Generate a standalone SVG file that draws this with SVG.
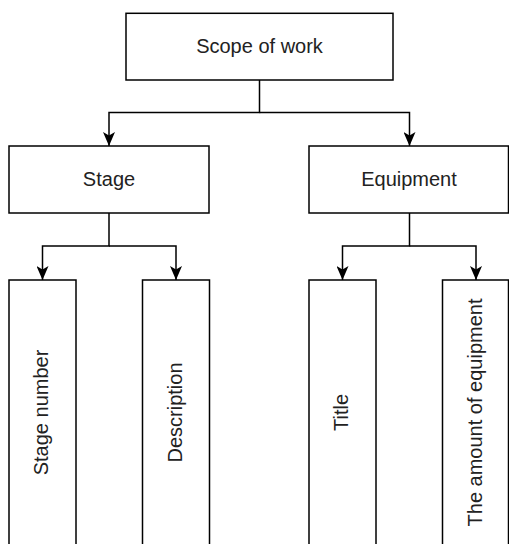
<svg xmlns="http://www.w3.org/2000/svg" width="509" height="544" viewBox="0 0 509 544">
<style>
.box{fill:#fff;stroke:#000;stroke-width:1.5}
.lbl{font-family:"Liberation Sans",Arial,sans-serif;font-size:20px;fill:#222;text-anchor:middle}
.con{fill:none;stroke:#000;stroke-width:1.5}
</style>
<defs>
<marker id="arr" markerUnits="userSpaceOnUse" viewBox="0 0 14 12" refX="14" refY="6" markerWidth="14" markerHeight="12" orient="auto">
<path d="M0,0 L14,6 L0,12 L3.5,6 Z" fill="#000"/>
</marker>
</defs>
<rect width="509" height="544" fill="#fff"/>
<g id="connectors">
<path class="con" d="M259.5,80 V112.5 H109 V146" marker-end="url(#arr)"/>
<path class="con" d="M259.5,112.5 H409.5 V146" marker-end="url(#arr)"/>
<path class="con" d="M109,213 V246 H42.5 V280" marker-end="url(#arr)"/>
<path class="con" d="M109,246 H176 V280" marker-end="url(#arr)"/>
<path class="con" d="M409.5,213 V246 H342.5 V280" marker-end="url(#arr)"/>
<path class="con" d="M409.5,246 H476 V280" marker-end="url(#arr)"/>
</g>
<g id="scope">
<rect class="box" x="126" y="13.3" width="267" height="66.7"/>
<text class="lbl" x="259.5" y="52.5">Scope of work</text>
</g>
<g id="stage">
<rect class="box" x="9" y="146" width="200" height="67"/>
<text class="lbl" x="109" y="186">Stage</text>
</g>
<g id="equipment">
<rect class="box" x="309" y="146" width="199.5" height="67"/>
<text class="lbl" x="409" y="186">Equipment</text>
</g>
<g id="stage-number">
<rect class="box" x="9" y="280" width="67" height="267"/>
<text class="lbl" transform="translate(48 412.5) rotate(-90)">Stage number</text>
</g>
<g id="description">
<rect class="box" x="142.5" y="280" width="67" height="267"/>
<text class="lbl" transform="translate(181.5 412.5) rotate(-90)">Description</text>
</g>
<g id="title">
<rect class="box" x="309" y="280" width="67" height="267"/>
<text class="lbl" transform="translate(348 412.5) rotate(-90)">Title</text>
</g>
<g id="amount">
<rect class="box" x="442.5" y="280" width="66" height="267"/>
<text class="lbl" transform="translate(481.5 412.5) rotate(-90)">The amount of equipment</text>
</g>
</svg>
